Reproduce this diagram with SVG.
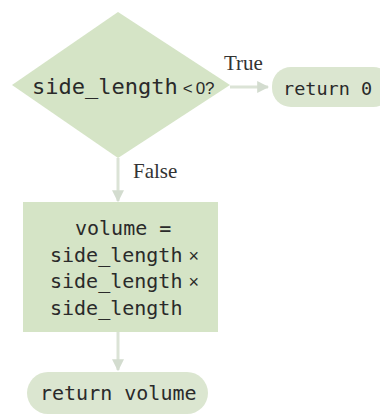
<svg xmlns="http://www.w3.org/2000/svg" width="380" height="414" viewBox="0 0 380 414">
<defs>
<style>
.shape{fill:#d5e4c6;stroke:none}
.term{fill:#dbe6d0;stroke:none}
.code{font-family:"DejaVu Sans Mono","Liberation Mono",monospace;fill:#2a2a2a}
.sym{font-family:"Liberation Sans","DejaVu Sans",sans-serif;fill:#2a2a2a}
.lbl{font-family:"Liberation Serif","DejaVu Serif",serif;font-size:21px;fill:#333}
.conn{stroke:#dbe3d6;stroke-width:3;fill:none}
</style>
<marker id="ah" viewBox="0 0 10 10" refX="9" refY="5" markerWidth="4" markerHeight="4" orient="auto" markerUnits="strokeWidth">
<path d="M0,0 L10,5 L0,10 z" fill="#d3dccf"/>
</marker>
</defs>
<rect width="380" height="414" fill="#ffffff"/>
<g id="connectors">
<line class="conn" x1="230" y1="87" x2="268" y2="87" marker-end="url(#ah)"/>
<line class="conn" x1="118" y1="158" x2="118" y2="201" marker-end="url(#ah)"/>
<line class="conn" x1="118" y1="332" x2="118" y2="370" marker-end="url(#ah)"/>
<text class="lbl" x="224" y="70">True</text>
<text class="lbl" x="133" y="178">False</text>
</g>
<g id="decision">
<polygon class="shape" points="118,12 230,85 118,158 12,85"/>
<text class="code" x="32" y="94" font-size="22">side_length<tspan class="sym" font-size="17" dx="5">&lt;</tspan><tspan class="sym" font-size="17" dx="3">0?</tspan></text>
</g>
<g id="return0">
<rect class="term" x="272" y="67" width="120" height="40" rx="19"/>
<text class="code" x="283" y="95" font-size="18.5">return 0</text>
</g>
<g id="compute">
<rect class="shape" x="23" y="202" width="195" height="130"/>
<text class="code" font-size="20">
<tspan x="75" y="235">volume =</tspan>
<tspan x="50" y="262">side_length<tspan class="sym" font-size="18" dx="6">×</tspan></tspan>
<tspan x="50" y="288">side_length<tspan class="sym" font-size="18" dx="6">×</tspan></tspan>
<tspan x="50" y="315">side_length</tspan>
</text>
</g>
<g id="returnVolume">
<rect class="term" x="27" y="372" width="181" height="42" rx="21"/>
<text class="code" x="40" y="400" font-size="20">return volume</text>
</g>
</svg>
